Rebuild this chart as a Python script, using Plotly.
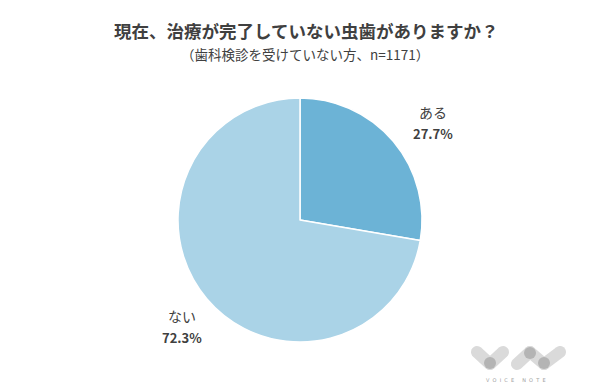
import math
import plotly.graph_objects as go

categories = ["ある", "ない"]
values = [27.7, 72.3]
colors = ["#6CB3D6", "#AAD3E7"]
title = "現在、治療が完了していない虫歯がありますか？"
subtitle = "（歯科検診を受けていない方、n=1171）"

W, H = 600, 385
cx, cy, r = 292, 212, 122

fig = go.Figure()
fig.add_trace(go.Pie(
    labels=categories, values=values, sort=False, direction="clockwise",
    rotation=0, marker=dict(colors=colors, line=dict(color="white", width=1.5)),
    textinfo="none", hoverinfo="label+percent", showlegend=False,
    domain=dict(x=[(cx - r) / W, (cx + r) / W], y=[(H - cy - r) / H, (H - cy + r) / H]),
))

font = "Noto Sans CJK JP"
label_pos = [(425, 104), (174, 308)]
for cat, v, (x, y) in zip(categories, values, label_pos):
    fig.add_annotation(x=x / W, y=1 - y / H, xref="paper", yref="paper",
                       xanchor="center", yanchor="middle",
                       text=cat, showarrow=False,
                       font=dict(family=font, size=14, color="#404040"))
    fig.add_annotation(x=x / W, y=1 - (y + 21) / H, xref="paper", yref="paper",
                       xanchor="center", yanchor="middle",
                       text=f"<b>{v}%</b>", showarrow=False,
                       font=dict(family=font, size=13, color="#404040"))

fig.add_annotation(x=0.497, y=1 - 22 / H, xref="paper", yref="paper",
                   xanchor="center", yanchor="middle",
                   text=f"<b>{title}</b>", showarrow=False,
                   font=dict(family=font, size=17.5, color="#404040"))
fig.add_annotation(x=0.4958, y=1 - 46 / H, xref="paper", yref="paper",
                   xanchor="center", yanchor="middle",
                   text=subtitle, showarrow=False,
                   font=dict(family=font, size=13.5, color="#404040"))

# watermark logo (decorative)
def pill(x0, y0, x1, y1, w, color):
    ang = math.atan2(y1 - y0, x1 - x0)
    pts = []
    for i in range(13):
        a = ang - math.pi / 2 + math.pi * i / 12
        pts.append((x1 + w / 2 * math.cos(a), y1 + w / 2 * math.sin(a)))
    for i in range(13):
        a = ang + math.pi / 2 + math.pi * i / 12
        pts.append((x0 + w / 2 * math.cos(a), y0 + w / 2 * math.sin(a)))
    path = "M " + " L ".join(f"{px / W:.5f},{1 - py / H:.5f}" for px, py in pts) + " Z"
    return dict(type="path", xref="paper", yref="paper", path=path,
                fillcolor=color, line=dict(width=0), layer="above")

def dot(x, y, rr, color):
    return dict(type="circle", xref="paper", yref="paper",
                x0=(x - rr) / W, x1=(x + rr) / W, y0=1 - (y + rr) / H, y1=1 - (y - rr) / H,
                fillcolor=color, line=dict(width=0), layer="above")

segs = [(469, 344, 482, 356), (482, 356, 495, 344),
        (509, 356, 522, 344), (522, 344, 536, 356), (536, 356, 552, 344)]
joints = [(482, 355), (522, 345), (536, 355)]
shapes = [pill(*s, 12, "#DADADA") for s in segs] + [dot(x, y, 6, "#B4B4B4") for x, y in joints]
fig.update_layout(shapes=shapes)
fig.add_annotation(x=508 / W, y=1 - 372 / H, xref="paper", yref="paper",
                   xanchor="center", yanchor="middle",
                   text="V&nbsp;&nbsp;O&nbsp;&nbsp;I&nbsp;&nbsp;C&nbsp;&nbsp;E&nbsp;&nbsp;&nbsp;&nbsp;&nbsp;N&nbsp;&nbsp;O&nbsp;&nbsp;T&nbsp;&nbsp;E",
                   showarrow=False, font=dict(family="DejaVu Sans", size=5, color="#A0A0A0"))

fig.update_layout(width=W, height=H, margin=dict(l=0, r=0, t=0, b=0),
                  paper_bgcolor="white", plot_bgcolor="white")
fig.write_html("out.html")
